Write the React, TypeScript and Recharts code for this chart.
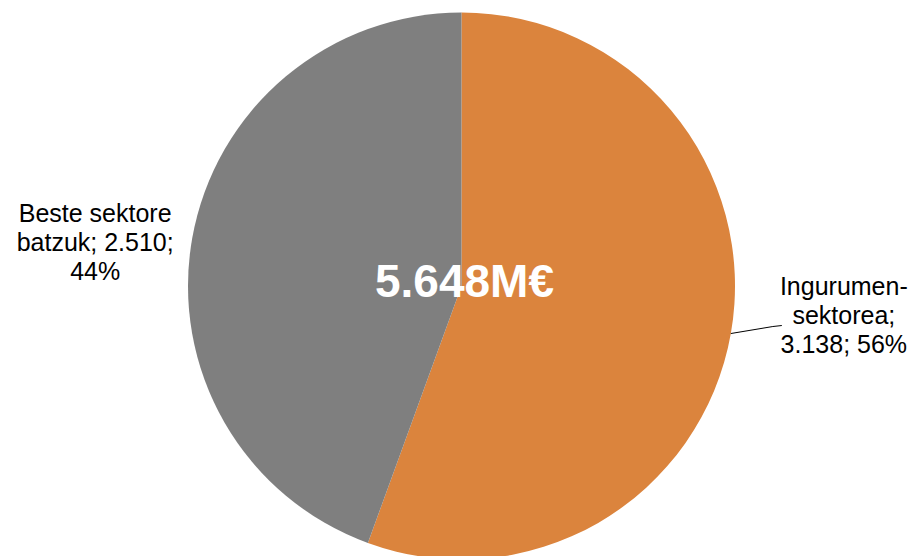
import { PieChart, Pie, Cell, Label } from "recharts";

const categories = ["Ingurumen-sektorea", "Beste sektore batzuk"];
const values = [3138, 2510];
const totalLabel = "5.648M€";
// wrapped label text as it appears in the chart
const labelLines = [
  ["Ingurumen-", "sektorea;", "3.138; 56%"],
  ["Beste sektore", "batzuk; 2.510;", "44%"],
];
const colors = ["#DB843D", "#7F7F7F"];

const data = categories.map((name, i) => ({ name, value: values[i] }));
const RAD = Math.PI / 180;
const FONT = "'Liberation Sans', Arial, sans-serif";

function renderLabel(props: any) {
  const { cx, cy, midAngle, outerRadius, index } = props;
  const ex = cx + outerRadius * Math.cos(-midAngle * RAD);
  const ey = cy + outerRadius * Math.sin(-midAngle * RAD);
  const lines = labelLines[index];
  if (index === 0) {
    const tx = ex + 113;
    return (
      <g>
        <polyline
          points={`${ex},${ey} ${ex + 42},${ey - 7} ${ex + 51},${ey - 8}`}
          fill="none"
          stroke="#000"
          strokeWidth={1}
        />
        {lines.map((l, k) => (
          <text key={k} x={tx} y={ey - 39 + k * 29} textAnchor="middle" fontSize={25} fontFamily={FONT} fill="#000">
            {l}
          </text>
        ))}
      </g>
    );
  }
  const tx = ex - 97;
  return (
    <g>
      {lines.map((l, k) => (
        <text key={k} x={tx} y={ey - 16 + k * 29} textAnchor="middle" fontSize={25} fontFamily={FONT} fill="#000">
          {l}
        </text>
      ))}
    </g>
  );
}

export default function App() {
  return (
    <div style={{ position: "absolute", left: 0, top: 0, background: "#fff" }}>
      <PieChart width={915} height={556} margin={{ top: 0, right: 0, bottom: 0, left: 0 }}>
        <Pie
          data={data}
          dataKey="value"
          nameKey="name"
          cx={461.5}
          cy={286}
          outerRadius={273.5}
          startAngle={90}
          endAngle={-270}
          stroke="none"
          label={renderLabel}
          labelLine={false}
          isAnimationActive={false}
        >
          {data.map((d, i) => (
            <Cell key={d.name} fill={colors[i]} />
          ))}
          <Label
            value={totalLabel}
            position="center"
            fill="#fff"
            fontSize={46}
            fontWeight="bold"
            fontFamily={FONT}
            dx={7}
            dy={3}
          />
        </Pie>
      </PieChart>
    </div>
  );
}
